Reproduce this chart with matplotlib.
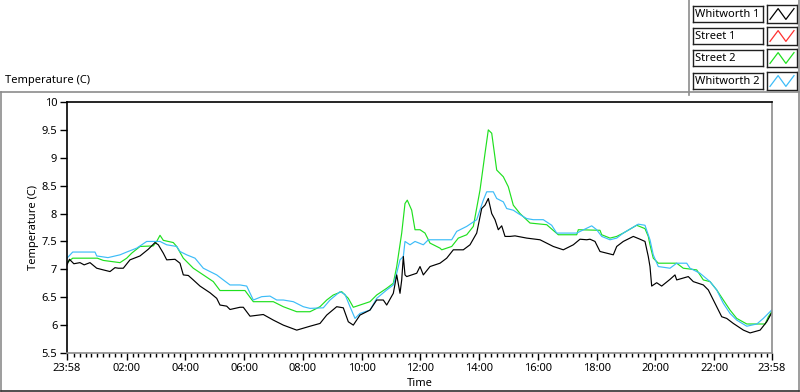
import matplotlib
matplotlib.use("Agg")
import matplotlib.pyplot as plt
from matplotlib.lines import Line2D
import numpy as np

# hours since midnight, the chart runs 23:58 -> 23:58
whitworth1_time = [-0.033, 0.05, 0.2, 0.409, 0.55, 0.75, 0.978, 1.202, 1.431, 1.6, 1.713, 1.883,
                   2.111, 2.452, 2.734, 2.962, 3.075, 3.245, 3.361, 3.643, 3.813, 3.926, 4.096,
                   4.266, 4.494, 4.835, 5.063, 5.175, 5.403, 5.516, 5.856, 5.969, 6.197, 6.649,
                   6.99, 7.33, 7.787, 8.239, 8.58, 8.808, 9.148, 9.373, 9.543, 9.713, 9.941,
                   10.282, 10.51, 10.735, 10.85, 11.075, 11.191, 11.303, 11.361, 11.416, 11.473,
                   11.531, 11.872, 11.984, 12.097, 12.325, 12.665, 12.893, 13.118, 13.458, 13.686,
                   13.914, 14.084, 14.197, 14.309, 14.425, 14.537, 14.649, 14.765, 14.878, 15.048,
                   15.218, 15.616, 16.069, 16.521, 16.862, 17.203, 17.431, 17.659, 17.771, 17.941,
                   18.111, 18.339, 18.564, 18.68, 18.904, 19.245, 19.473, 19.643, 19.755, 19.813,
                   19.871, 20.041, 20.211, 20.494, 20.664, 20.722, 21.117, 21.287, 21.629, 21.799,
                   22.027, 22.255, 22.425, 22.65, 22.994, 23.221, 23.562, 23.788, 23.956]
whitworth1_temp = [7.08, 7.18, 7.10, 7.12, 7.08, 7.12, 7.02, 6.99, 6.96, 7.03, 7.02, 7.02,
                   7.17, 7.24, 7.36, 7.48, 7.44, 7.29, 7.17, 7.18, 7.11, 6.90, 6.89,
                   6.81, 6.70, 6.58, 6.48, 6.36, 6.34, 6.28, 6.32, 6.32, 6.16, 6.19,
                   6.09, 6.00, 5.91, 5.98, 6.03, 6.18, 6.33, 6.31, 6.06, 6.00, 6.18,
                   6.27, 6.45, 6.45, 6.36, 6.57, 6.90, 6.57, 6.81, 7.23, 6.90,
                   6.87, 6.93, 7.05, 6.90, 7.05, 7.11, 7.20, 7.35, 7.35, 7.44,
                   7.65, 8.09, 8.15, 8.27, 8.00, 7.89, 7.71, 7.78, 7.59, 7.59,
                   7.60, 7.56, 7.53, 7.41, 7.35, 7.44, 7.54, 7.53, 7.54, 7.50,
                   7.32, 7.29, 7.26, 7.41, 7.50, 7.59, 7.54, 7.50, 7.23, 7.05,
                   6.70, 6.76, 6.70, 6.82, 6.90, 6.81, 6.87, 6.78, 6.72, 6.63,
                   6.39, 6.15, 6.12, 6.03, 5.91, 5.86, 5.91, 6.06, 6.22]

street1_time = []
street1_temp = []

street2_time = [-0.033, 0.161, 1.0, 1.2, 1.771, 1.999, 2.169, 2.452, 2.905, 3.02, 3.133, 3.245,
                3.585, 3.701, 3.926, 4.266, 4.607, 4.947, 5.175, 6.026, 6.309, 6.99, 7.33, 7.787,
                8.239, 8.58, 8.808, 9.032, 9.318, 9.543, 9.713, 9.941, 10.282, 10.51, 10.85,
                11.075, 11.191, 11.361, 11.473, 11.551, 11.701, 11.814, 11.984, 12.154, 12.325,
                12.665, 12.723, 13.063, 13.288, 13.574, 13.799, 14.026, 14.197, 14.309, 14.425,
                14.595, 14.82, 14.99, 15.16, 15.388, 15.729, 16.297, 16.692, 17.318, 17.373,
                18.111, 18.169, 18.452, 18.68, 18.904, 19.36, 19.643, 19.755, 19.813, 19.925,
                20.096, 20.722, 20.947, 21.403, 21.629, 21.857, 22.085, 22.31, 22.537, 22.766,
                23.109, 23.731, 23.843, 23.956]
street2_temp = [7.12, 7.20, 7.20, 7.16, 7.12, 7.20, 7.29, 7.41, 7.42, 7.50, 7.61, 7.52,
                7.48, 7.41, 7.20, 7.02, 6.90, 6.78, 6.62, 6.62, 6.42, 6.42, 6.33, 6.24,
                6.24, 6.33, 6.45, 6.54, 6.60, 6.48, 6.32, 6.36, 6.42, 6.54, 6.66,
                6.75, 7.05, 7.65, 8.18, 8.24, 8.06, 7.71, 7.71, 7.65, 7.47,
                7.38, 7.35, 7.41, 7.56, 7.62, 7.77, 8.42, 9.08, 9.50, 9.44,
                8.78, 8.66, 8.48, 8.15, 8.00, 7.83, 7.80, 7.62, 7.62, 7.71,
                7.70, 7.62, 7.56, 7.59, 7.65, 7.79, 7.73, 7.59, 7.44, 7.20,
                7.11, 7.11, 7.02, 6.99, 6.81, 6.78, 6.63, 6.45, 6.27, 6.12,
                6.02, 6.02, 6.15, 6.24]

whitworth2_time = [-0.033, 0.161, 0.92, 0.978, 1.362, 1.771, 1.999, 2.34, 2.68, 3.133, 3.361,
                   3.701, 3.813, 4.041, 4.324, 4.607, 5.063, 5.288, 5.516, 5.856, 6.084, 6.309,
                   6.595, 6.877, 7.106, 7.33, 7.671, 8.011, 8.239, 8.692, 8.92, 9.261, 9.431,
                   9.601, 9.771, 9.941, 10.282, 10.51, 10.85, 11.075, 11.191, 11.303, 11.416,
                   11.473, 11.644, 11.814, 12.097, 12.267, 13.063, 13.233, 13.574, 13.914, 14.139,
                   14.254, 14.479, 14.595, 14.82, 14.935, 15.16, 15.33, 15.616, 15.841, 16.181,
                   16.467, 16.637, 17.318, 17.829, 17.999, 18.169, 18.452, 18.68, 18.904, 19.415,
                   19.643, 19.813, 19.925, 20.096, 20.494, 20.722, 21.063, 21.175, 21.515, 21.857,
                   22.085, 22.31, 22.537, 22.766, 23.109, 23.45, 23.671, 23.956]
whitworth2_temp = [7.20, 7.31, 7.31, 7.24, 7.21, 7.26, 7.31, 7.38, 7.50, 7.50, 7.44,
                   7.41, 7.32, 7.26, 7.20, 7.02, 6.90, 6.81, 6.72, 6.72, 6.70, 6.45,
                   6.51, 6.52, 6.45, 6.45, 6.42, 6.33, 6.30, 6.31, 6.45, 6.60, 6.55,
                   6.33, 6.12, 6.21, 6.27, 6.48, 6.63, 6.72, 6.93, 7.17, 7.23,
                   7.50, 7.44, 7.50, 7.44, 7.53, 7.53, 7.68, 7.77, 7.89, 8.24,
                   8.39, 8.39, 8.27, 8.21, 8.09, 8.06, 8.00, 7.91, 7.89, 7.89,
                   7.79, 7.65, 7.65, 7.78, 7.71, 7.59, 7.53, 7.56, 7.65, 7.81,
                   7.79, 7.53, 7.26, 7.05, 7.02, 7.11, 7.11, 7.02, 6.93, 6.78,
                   6.63, 6.39, 6.21, 6.09, 5.98, 6.02, 6.12, 6.27]

series_names = ["Whitworth 1", "Street 1", "Street 2", "Whitworth 2"]
series_colors = ["#000000", "#ff3030", "#1fe01f", "#3cbcf8"]
x_ticks = [-2 / 60, 2, 4, 6, 8, 10, 12, 14, 16, 18, 20, 22, 24 - 2 / 60]
x_labels = ["23:58", "02:00", "04:00", "06:00", "08:00", "10:00", "12:00",
            "14:00", "16:00", "18:00", "20:00", "22:00", "23:58"]
y_ticks = [5.5, 6, 6.5, 7, 7.5, 8, 8.5, 9, 9.5, 10]
y_labels = ["5.5", "6", "6.5", "7", "7.5", "8", "8.5", "9", "9.5", "10"]

plt.rcParams['font.family'] = ['Noto Sans', 'DejaVu Sans']
W, H = 800, 392
fig = plt.figure(figsize=(W / 100, H / 100), dpi=100)

def fx(x):
    return x / W

def fy(y):
    return 1 - y / H

# outer frame of the graph + legend frame edge
gray = "#8c8c8c"
frame = [([1, 1], [92, 391], gray), ([1, 799], [92, 92], gray), ([799, 799], [0, 391], gray),
         ([1, 799], [391, 391], "#303030"), ([689, 689], [0, 95], gray)]
for xs, ys, c in frame:
    fig.add_artist(Line2D([fx(v) for v in xs], [fy(v) for v in ys], color=c, lw=1.2,
                          transform=fig.transFigure))

fig.text(fx(5), fy(80), "Temperature (C)", fontsize=8, va="center", ha="left")

ax = fig.add_axes([fx(67), fy(353), fx(772 - 67), (353 - 102) / H])
data = [(whitworth1_time, whitworth1_temp), (street1_time, street1_temp),
        (street2_time, street2_temp), (whitworth2_time, whitworth2_temp)]
# whitworth 1 goes on top
for i in [1, 2, 3, 0]:
    t, v = data[i]
    ax.plot(t, v, color=series_colors[i], lw=0.85)

ax.set_xlim(x_ticks[0], x_ticks[-1])
ax.set_ylim(5.5, 10)
ax.set_xticks(x_ticks)
ax.set_xticklabels(x_labels, fontsize=8)
ax.set_yticks(y_ticks)
ax.set_yticklabels(y_labels, fontsize=8)
minor = [m / 5 for m in range(1, 120) if m % 10 != 0]
ax.set_xticks(minor, minor=True)
ax.tick_params(axis="both", which="major", length=5, width=1, pad=2, color="black")
ax.tick_params(axis="x", which="minor", length=3, width=1, color="black")
ax.spines["left"].set_color("black")
ax.spines["top"].set_color("black")
ax.spines["right"].set_color(gray)
ax.spines["bottom"].set_color(gray)
for s in ax.spines.values():
    s.set_linewidth(1.2)
ax.set_xlabel("Time", fontsize=8, labelpad=3)
ax.set_ylabel("Temperature (C)", fontsize=8, labelpad=2)

# legend in the top right
row_centers = [14, 36, 58, 81]
for name, col, yc in zip(series_names, series_colors, row_centers):
    lab = fig.add_axes([fx(693), fy(yc + 8), fx(70), 16 / H])
    lab.set_xticks([])
    lab.set_yticks([])
    for s in lab.spines.values():
        s.set_color("#202020")
        s.set_linewidth(1)
    lab.text(0.03, 0.45, name, fontsize=8, va="center", ha="left", transform=lab.transAxes)
    ic = fig.add_axes([fx(767), fy(yc + 9), fx(30), 18 / H])
    ic.set_xticks([])
    ic.set_yticks([])
    for s in ic.spines.values():
        s.set_color("#202020")
        s.set_linewidth(1)
    ic.plot([0.1, 0.37, 0.63, 0.9], [0.2, 0.8, 0.2, 0.8], color=col, lw=0.9)
    ic.set_xlim(0, 1)
    ic.set_ylim(0, 1)

fig.savefig("out.png", dpi=100)
